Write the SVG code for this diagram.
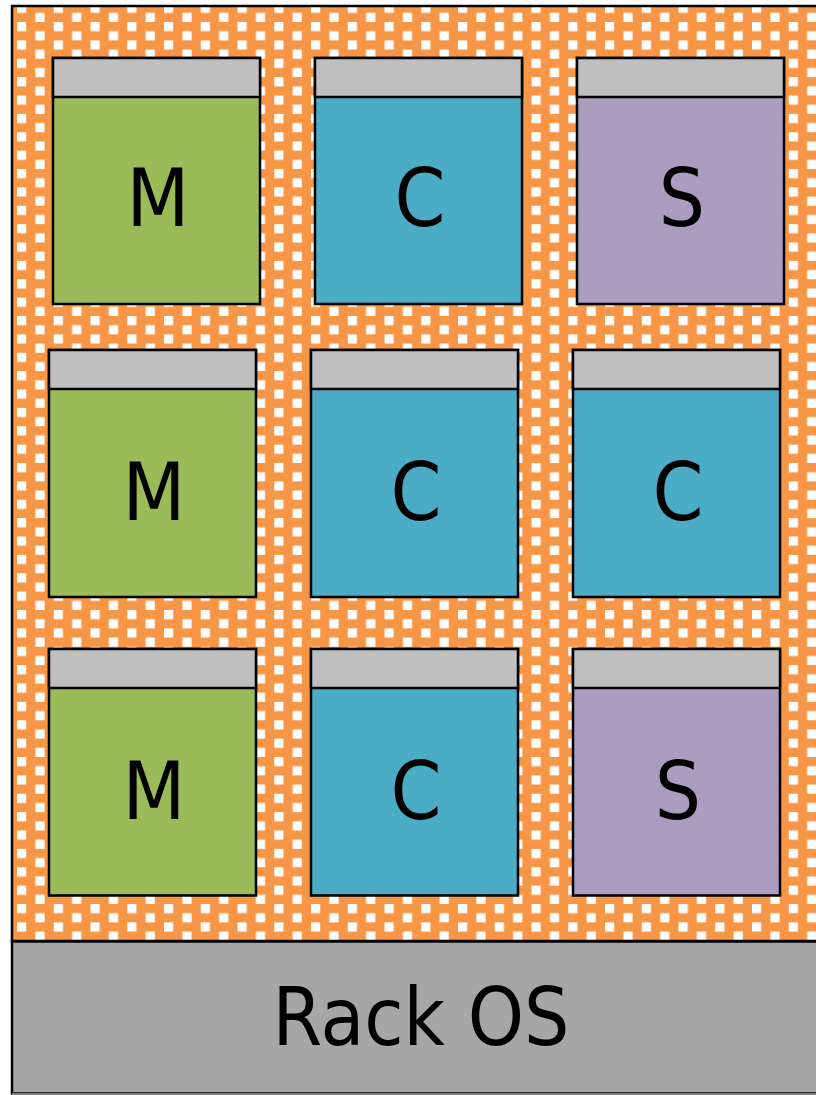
<svg xmlns="http://www.w3.org/2000/svg" width="816" height="1095" viewBox="0 0 816 1095">
<defs>
<pattern id="dots" patternUnits="userSpaceOnUse" x="17" y="3.625" width="36.75" height="18.375">
<rect x="0" y="0" width="36.75" height="18.375" fill="#F79646"/>
<rect x="0" y="0" width="9.2" height="9.2" fill="#FFFFFF"/>
<rect x="18.375" y="9.1875" width="9.2" height="9.2" fill="#FFFFFF"/>
</pattern>
<style>
.box{stroke:#000;stroke-width:2.5}
.hdr{fill:#BFBFBF;stroke:#000;stroke-width:2.5}
.m{fill:#9BBB59}
.c{fill:#4BACC6}
.s{fill:#AC9CC0}
.lbl{font-family:"DejaVu Sans Condensed","DejaVu Sans",sans-serif;font-stretch:condensed;font-size:81px;fill:#000;text-anchor:middle}
</style>
</defs>
<g id="rack">
<rect x="12" y="6" width="820" height="935" fill="url(#dots)" stroke="#000" stroke-width="2.5"/>
</g>
<g id="rack-os">
<rect x="12" y="941.5" width="820" height="152" fill="#A6A6A6" stroke="#000" stroke-width="2.5"/>
<line x1="12" y1="1094" x2="816" y2="1094" stroke="#7F7F7F" stroke-width="2"/>
<text class="lbl" x="421" y="1045" textLength="297" lengthAdjust="spacingAndGlyphs">Rack OS</text>
</g>
<g id="n1"><rect class="box m" x="53" y="58" width="207" height="246"/><rect class="hdr" x="53" y="58" width="207" height="39"/><text class="lbl" x="158" y="226">M</text></g>
<g id="n2"><rect class="box c" x="315" y="58" width="207" height="246"/><rect class="hdr" x="315" y="58" width="207" height="39"/><text class="lbl" x="420" y="226">C</text></g>
<g id="n3"><rect class="box s" x="577" y="58" width="207" height="246"/><rect class="hdr" x="577" y="58" width="207" height="39"/><text class="lbl" x="682" y="226">S</text></g>
<g id="n4"><rect class="box m" x="49" y="350" width="207" height="247"/><rect class="hdr" x="49" y="350" width="207" height="39"/><text class="lbl" x="154" y="520">M</text></g>
<g id="n5"><rect class="box c" x="311" y="350" width="207" height="247"/><rect class="hdr" x="311" y="350" width="207" height="39"/><text class="lbl" x="416" y="520">C</text></g>
<g id="n6"><rect class="box c" x="573" y="350" width="207" height="247"/><rect class="hdr" x="573" y="350" width="207" height="39"/><text class="lbl" x="678" y="520">C</text></g>
<g id="n7"><rect class="box m" x="49" y="649" width="207" height="246.5"/><rect class="hdr" x="49" y="649" width="207" height="39"/><text class="lbl" x="154" y="819">M</text></g>
<g id="n8"><rect class="box c" x="311" y="649" width="207" height="246.5"/><rect class="hdr" x="311" y="649" width="207" height="39"/><text class="lbl" x="416" y="819">C</text></g>
<g id="n9"><rect class="box s" x="573" y="649" width="207" height="246.5"/><rect class="hdr" x="573" y="649" width="207" height="39"/><text class="lbl" x="678" y="819">S</text></g>
<g id="connectors"/>
</svg>
